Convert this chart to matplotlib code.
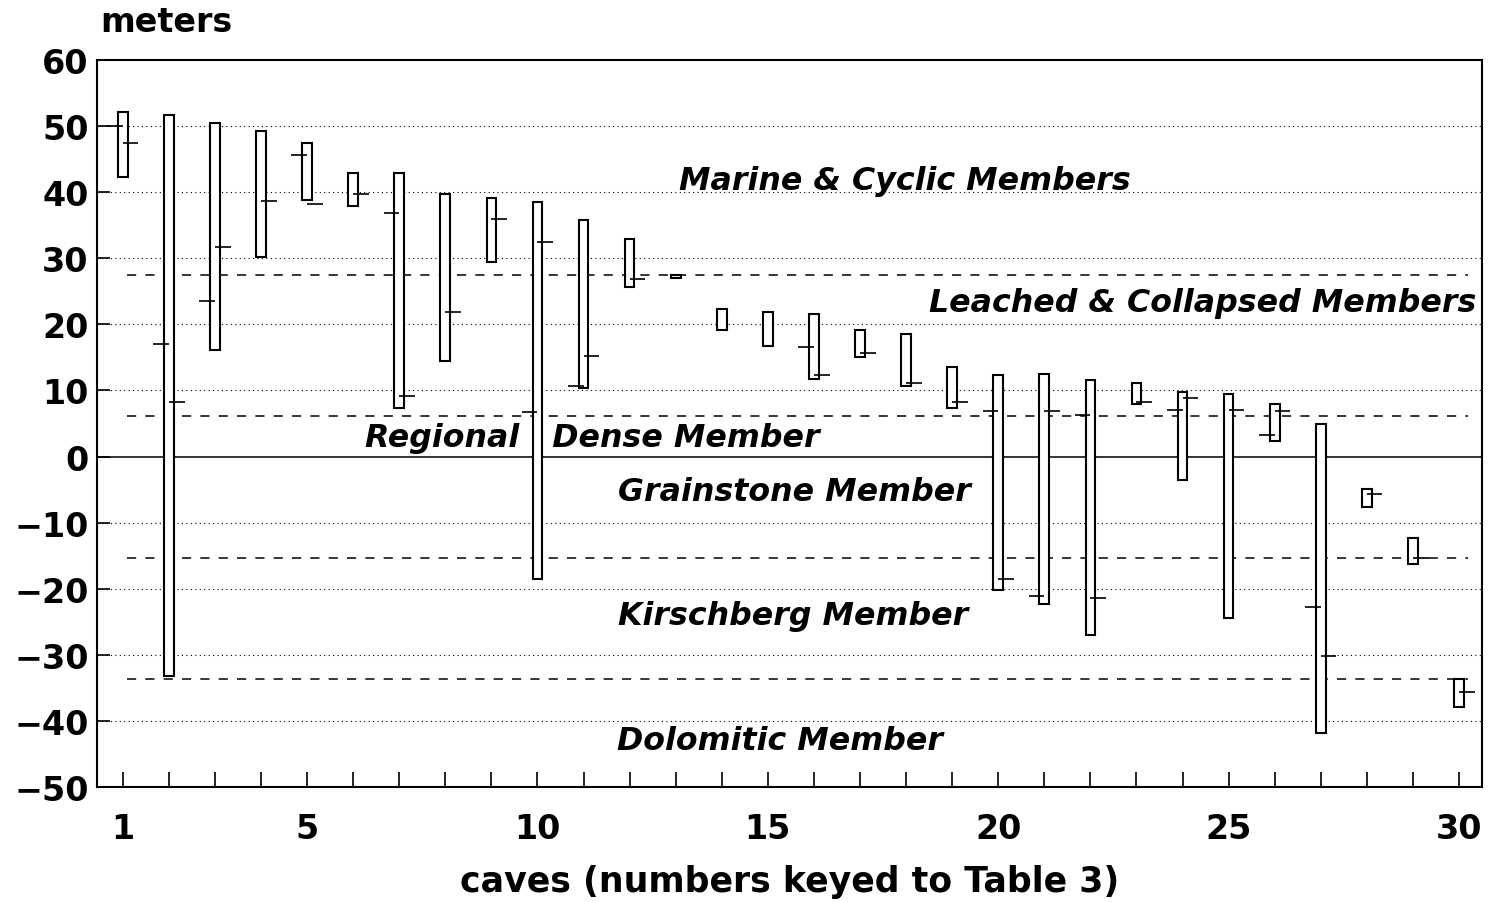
import numpy as np
import matplotlib.pyplot as plt

# cave numbers and depth ranges (meters)
caves = np.arange(1, 31)
high = [52.1, 51.7, 50.4, 49.2, 47.4, 42.9, 42.9, 39.8, 39.1, 38.5,
        35.8, 32.9, 27.5, 22.3, 21.8, 21.5, 19.1, 18.6, 13.6, 12.4,
        12.5, 11.6, 11.1, 9.7, 9.4, 8.0, 5.0, -4.9, -12.3, -33.6]
low = [42.3, -33.2, 16.1, 30.2, 38.8, 37.9, 7.4, 14.5, 29.4, -18.5,
       10.3, 25.6, 27.0, 19.1, 16.7, 11.8, 15.0, 10.6, 7.4, -20.2,
       -22.3, -27.0, 7.9, -3.5, -24.4, 2.3, -41.9, -7.6, -16.3, -37.9]
left_mark = [50.0, 17.1, 23.5, np.nan, 45.6, np.nan, 36.8, np.nan, np.nan, 6.8,
             10.6, np.nan, np.nan, np.nan, np.nan, 16.5, np.nan, np.nan, np.nan, 6.9,
             -21.1, 6.3, np.nan, 7.0, np.nan, 3.2, -22.7, np.nan, np.nan, np.nan]
right_mark = [47.4, 8.3, 31.7, 38.6, 38.2, 39.8, 9.1, 21.8, 35.9, 32.4,
              15.2, 26.8, np.nan, np.nan, np.nan, 12.4, 15.6, 11.2, 8.3, -18.5,
              6.9, -21.4, 8.2, 8.8, 7.0, 6.9, -30.2, -5.6, -15.3, -35.6]

# member boundaries (dashed lines)
boundaries = [27.4, 6.2, -15.3, -33.6]
members = ['Marine & Cyclic Members', 'Leached & Collapsed Members',
           'Regional   Dense Member', 'Grainstone Member',
           'Kirschberg Member', 'Dolomitic Member']
member_x = [13.08, 18.5, 6.25, 11.74, 11.74, 11.72]
member_y = [41.8, 23.3, 2.9, -5.3, -24.1, -43.0]

yticks = np.arange(-50, 61, 10)
xlabels = [1, 5, 10, 15, 20, 25, 30]

plt.rcParams['font.family'] = ['DejaVu Sans']
fig = plt.figure(figsize=(14.89, 9.03), dpi=100)
ax = fig.add_axes([97 / 1489, 1 - 788 / 903, (1482 - 97) / 1489, (788 - 61) / 903])

for y in yticks:
    if y == 0:
        ax.axhline(0, color='black', lw=1.1, zorder=1)
    elif -50 < y < 60:
        ax.axhline(y, color='black', lw=0.8, ls=(0, (1, 3)), zorder=1)

ax.hlines(boundaries, 1.1, 30.2, colors='black', lw=1.1, linestyles=(0, (6, 6)), zorder=1)

h = np.array(high) - np.array(low)
ax.bar(caves, h, bottom=low, width=0.21, facecolor='white', edgecolor='black',
       linewidth=1.5, zorder=3)
ax.hlines(left_mark, caves - 0.34, caves, colors='black', lw=1.2, zorder=4)
ax.hlines(right_mark, caves, caves + 0.34, colors='black', lw=1.2, zorder=4)

for name, tx, ty in zip(members, member_x, member_y):
    ax.text(tx, ty, name, fontsize=22.8, fontweight='bold', style='italic',
            ha='left', va='center', zorder=5)

ax.set_xlim(0.44, 30.5)
ax.set_ylim(-50, 60)
ax.set_yticks(yticks)
ax.set_yticklabels([str(v).replace('-', '\u2212') for v in yticks],
                   fontsize=24, fontweight='bold')
ax.set_xticks(caves)
ax.set_xticklabels([str(c) if c in xlabels else '' for c in caves],
                   fontsize=24, fontweight='bold')
ax.tick_params(axis='x', direction='in', length=11, width=1.2, pad=18)
ax.tick_params(axis='y', direction='in', length=9, width=1.2, pad=6)
for s in ax.spines.values():
    s.set_linewidth(1.5)

fig.text(100 / 1489, 1 - 23 / 903, 'meters', fontsize=24, fontweight='bold',
         ha='left', va='center')
ax.set_xlabel('caves (numbers keyed to Table 3)', fontsize=25, fontweight='bold',
              labelpad=14)

fig.savefig('out.png', dpi=100)
